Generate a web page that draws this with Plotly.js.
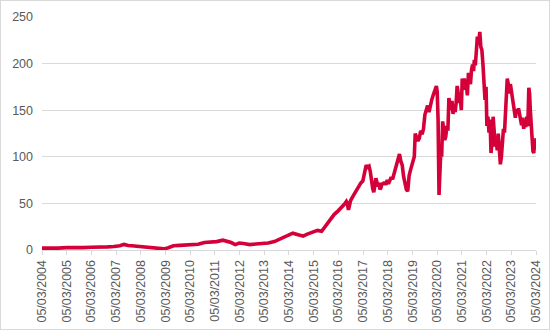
<!DOCTYPE html>
<html>
<head>
<meta charset="utf-8">
<script src="https://cdn.plot.ly/plotly-3.0.1.min.js"></script>
<style>
  html, body { margin: 0; padding: 0; background: #ffffff; }
  #wrap { position: relative; width: 550px; height: 330px; }
  #chart { width: 550px; height: 330px; }
  #frame { position: absolute; left: 0; top: 0; width: 550px; height: 330px; box-sizing: border-box; border: 1px solid #D9D9D9; pointer-events: none; }
</style>
</head>
<body>
<div id="wrap"><div id="chart"></div><div id="frame"></div></div>
<script>
// Price series
const dates = [
  "2004-03-05","2004-07-01","2004-11-01","2005-03-01","2005-07-01","2005-11-01",
  "2006-03-01","2006-07-01","2006-11-01","2007-02-01","2007-05-01","2007-07-01",
  "2007-09-01","2007-12-01","2008-03-01","2008-06-01","2008-09-01","2008-12-01",
  "2009-02-15","2009-04-15","2009-07-01","2009-10-01","2010-01-01","2010-04-01",
  "2010-07-01","2010-10-01","2011-01-01","2011-04-01","2011-07-01","2011-09-01",
  "2011-11-01","2012-01-01","2012-03-01","2012-05-01","2012-08-01","2012-11-01",
  "2013-02-01","2013-05-01","2013-08-01","2013-10-01","2014-01-01","2014-03-01",
  "2014-05-01","2014-08-01","2014-10-01","2014-12-01","2015-03-01","2015-05-01",
  "2015-07-01","2015-09-01","2015-11-01","2016-01-01","2016-03-01","2016-05-01",
  "2016-06-01","2016-07-01","2016-07-15","2016-08-01","2016-09-01","2016-10-01",
  "2016-11-01","2016-12-15","2017-02-01","2017-03-01","2017-04-01","2017-04-20",
  "2017-05-10","2017-06-01","2017-06-20","2017-07-10","2017-07-25","2017-08-10",
  "2017-08-25","2017-09-10","2017-09-25","2017-10-10","2017-10-25","2017-11-10",
  "2017-11-25","2017-12-10","2017-12-25","2018-01-15","2018-02-05","2018-02-25",
  "2018-03-15","2018-04-05","2018-04-25","2018-05-15","2018-06-05","2018-06-25",
  "2018-07-15","2018-08-05","2018-08-25","2018-09-15","2018-10-05","2018-10-25",
  "2018-11-15","2018-12-05","2018-12-25","2019-01-15","2019-02-05","2019-02-25",
  "2019-03-15","2019-04-01","2019-04-15","2019-05-05","2019-05-25","2019-06-15",
  "2019-07-05","2019-07-25","2019-08-15","2019-09-05","2019-09-25","2019-10-15",
  "2019-11-05","2019-11-25","2019-12-15","2020-01-05","2020-01-25","2020-02-10",
  "2020-02-22","2020-03-05","2020-03-18","2020-04-01","2020-04-15","2020-04-28",
  "2020-05-10","2020-05-25","2020-06-10","2020-06-25","2020-07-10","2020-07-25",
  "2020-08-10","2020-08-25","2020-09-10","2020-09-25","2020-10-10","2020-10-25",
  "2020-11-10","2020-11-25","2020-12-10","2020-12-25","2021-01-10","2021-01-25",
  "2021-02-10","2021-02-25","2021-03-10","2021-03-25","2021-04-10","2021-04-25",
  "2021-05-10","2021-05-25","2021-06-10","2021-06-25","2021-07-10","2021-07-25",
  "2021-08-10","2021-08-25","2021-09-05","2021-09-20","2021-10-05","2021-10-20",
  "2021-11-05","2021-11-15","2021-11-25","2021-12-10","2021-12-25","2022-01-10",
  "2022-01-25","2022-02-10","2022-02-25","2022-03-10","2022-03-25","2022-04-10",
  "2022-04-25","2022-05-10","2022-05-25","2022-06-10","2022-06-25","2022-07-10",
  "2022-07-25","2022-08-10","2022-08-25","2022-09-10","2022-09-25","2022-10-10",
  "2022-10-25","2022-11-10","2022-11-25","2022-12-10","2022-12-25","2023-01-05",
  "2023-01-20","2023-02-05","2023-02-20","2023-03-05","2023-03-20","2023-04-05",
  "2023-04-20","2023-05-05","2023-05-20","2023-06-05","2023-06-20","2023-07-05",
  "2023-07-20","2023-08-05","2023-08-20","2023-09-05","2023-09-20","2023-10-05",
  "2023-10-20","2023-11-05","2023-11-20","2023-12-01","2023-12-12","2023-12-25",
  "2024-01-08","2024-01-20","2024-02-01","2024-02-12","2024-02-25","2024-03-05"
];
const prices = [
  2.0, 1.8, 2.0, 2.5, 2.3, 2.6,
  3.0, 2.8, 3.4, 3.8, 4.5, 6.0,
  4.8, 4.3, 3.8, 3.5, 3.0, 2.0,
  1.2, 2.5, 4.5, 5.0, 5.5, 6.5,
  6.2, 8.0, 8.5, 9.0, 10.5, 9.5,
  8.0, 5.8, 7.5, 7.0, 5.8, 6.5,
  7.0, 7.5, 9.0, 11, 14, 15.5,
  18, 16, 15, 17, 20, 21,
  20, 26, 33, 38, 42, 46,
  49, 52, 50, 43, 53, 57,
  61, 66, 72, 74, 88, 91,
  89, 90, 84, 70, 66, 62,
  70, 77, 73, 68, 72, 65,
  67, 72, 70, 73, 70, 75,
  71, 74, 78, 76, 82, 88,
  93, 100, 103, 95, 91, 79,
  72, 65, 63, 80, 86, 92,
  98, 100, 125, 121, 117, 120,
  128, 124, 130, 145, 150, 155,
  148, 156, 161, 166, 170, 173,
  176, 170, 140, 59, 95, 108,
  100, 138, 128, 118, 122, 133,
  128, 163, 156, 150, 160, 146,
  152, 148, 158, 176, 168, 158,
  163, 150, 184, 176, 184, 172,
  178, 166, 190, 184, 178, 193,
  199, 192, 204, 198, 214, 229,
  220, 230, 234, 218, 215, 200,
  184, 161, 175, 133, 143, 126,
  140, 104, 116, 143, 128, 111,
  118, 107, 125, 108, 92, 100,
  115, 130, 126, 150, 160, 184,
  178, 168, 178, 172, 165, 153,
  146, 142, 151, 147, 152, 145,
  140, 134, 142, 130, 137, 132,
  143, 133, 174, 168, 150, 128,
  109, 106, 104, 116, 108, 120
];
const tickDates = [];
const tickLabels = [];
for (let y = 2004; y <= 2024; y++) {
  tickDates.push(y + "-03-05");
  tickLabels.push("05/03/" + y);
}
const yTicks = [0, 50, 100, 150, 200, 250];

const trace = {
  x: dates,
  y: prices,
  type: "scatter",
  mode: "lines",
  line: { color: "#D5003A", width: 3.6 },
  hoverinfo: "skip"
};

const layout = {
  width: 550,
  height: 330,
  margin: { l: 42, r: 14, t: 17, b: 80 },
  paper_bgcolor: "#ffffff",
  plot_bgcolor: "#ffffff",
  showlegend: false,
  font: { family: "Liberation Sans, Arial, sans-serif", size: 12.5, color: "#595959" },
  xaxis: {
    type: "date",
    range: ["2004-03-05", "2024-03-05"],
    tickmode: "array",
    tickvals: tickDates,
    ticktext: tickLabels,
    tickangle: -90,
    ticks: "outside",
    ticklen: 4,
    tickcolor: "#D9D9D9",
    showgrid: false,
    showline: true,
    linecolor: "#D9D9D9",
    linewidth: 1,
    zeroline: false,
    tickfont: { family: "Liberation Sans, Arial, sans-serif", size: 12.5, color: "#595959" }
  },
  yaxis: {
    range: [0, 250],
    tickmode: "array",
    tickvals: yTicks,
    ticktext: yTicks.map(String),
    showgrid: true,
    gridcolor: "#D9D9D9",
    gridwidth: 1,
    zeroline: false,
    showline: false,
    ticks: "",
    ticklabelstandoff: 8,
    tickfont: { family: "Liberation Sans, Arial, sans-serif", size: 12.5, color: "#595959" }
  }
};

Plotly.newPlot("chart", [trace], layout, { displayModeBar: false, staticPlot: true });
</script>
</body>
</html>
